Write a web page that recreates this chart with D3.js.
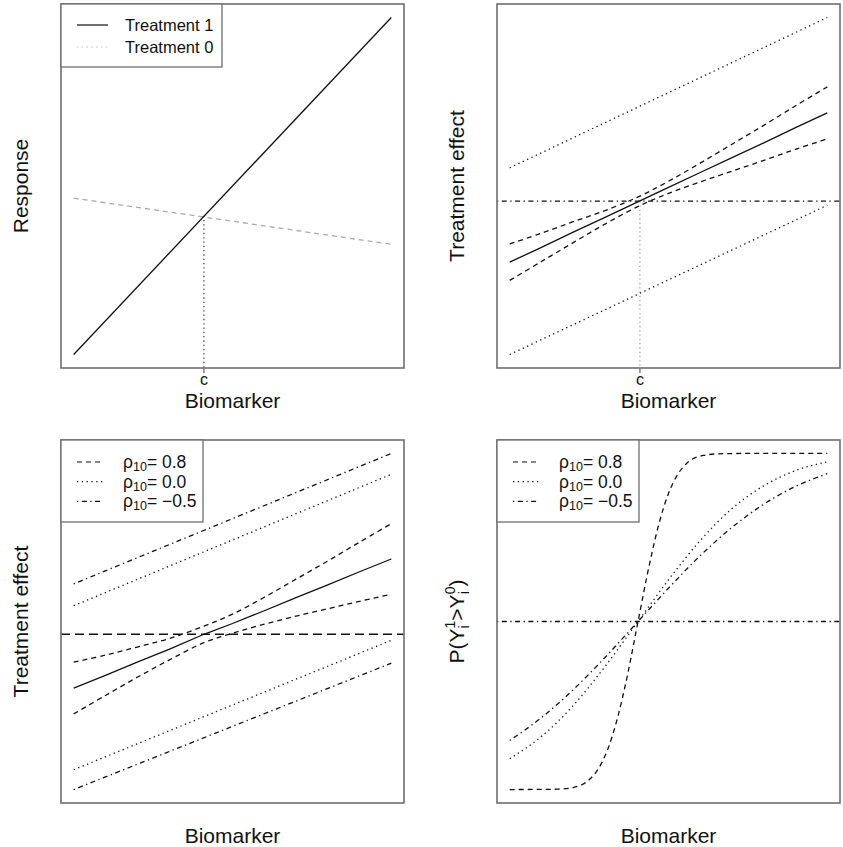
<!DOCTYPE html>
<html>
<head>
<meta charset="utf-8">
<script src="https://cdn.jsdelivr.net/npm/d3@7"></script>
<style>
  body { margin: 0; background: #fff; }
  text { font-family: "Liberation Sans", Arial, Helvetica, sans-serif; fill: #111; }
</style>
</head>
<body>
<div id="chart"></div>
<script>
/* DATA (biomarker and response on 0..1 units) */
const cutoff = 0.41;

// panel A: response
const respX = [0, 1];
const respTreat1 = [0, 1];
const respTreat0 = [0.464, 0.327];

// panel B: treatment effect with bands
const teX = [0, 0.1, 0.2, 0.3, 0.41, 0.5, 0.6, 0.7, 0.8, 0.9, 1];
const teMid = [0.274, 0.318, 0.363, 0.407, 0.456, 0.496, 0.540, 0.584, 0.628, 0.673, 0.717];
const teDashHi = [0.328, 0.360, 0.394, 0.427, 0.470, 0.514, 0.568, 0.624, 0.680, 0.738, 0.794];
const teDashLo = [0.220, 0.276, 0.332, 0.387, 0.442, 0.478, 0.512, 0.544, 0.576, 0.609, 0.640];
const teDotHi = [0.554, 1.0];
const teDotLo = [0, 0.443];
const teZero = 0.455;

// panel C: treatment effect for three correlations
const rhoX = [0, 0.1, 0.2, 0.3, 0.41, 0.5, 0.6, 0.7, 0.8, 0.9, 1];
const rhoMid = [0.302, 0.340, 0.379, 0.417, 0.462, 0.494, 0.532, 0.571, 0.609, 0.648, 0.686];
const rho08Hi = [0.379, 0.400, 0.424, 0.449, 0.486, 0.522, 0.572, 0.626, 0.680, 0.736, 0.791];
const rho08Lo = [0.225, 0.280, 0.334, 0.385, 0.437, 0.465, 0.492, 0.516, 0.538, 0.560, 0.581];
const rho00Hi = [0.547, 0.938];
const rho00Lo = [0.059, 0.444];
const rhoM05Hi = [0.612, 1.0];
const rhoM05Lo = [0, 0.376];
const rhoZero = 0.462;

// panel D: P(Y1 > Y0)
const pX08 = [0, 0.15, 0.20, 0.25, 0.28, 0.31, 0.34, 0.37, 0.404, 0.44, 0.47, 0.50, 0.53, 0.56, 0.61, 0.66, 0.75, 1.0];
const p08 = [0, 0.001, 0.006, 0.029, 0.063, 0.123, 0.215, 0.337, 0.5, 0.670, 0.791, 0.881, 0.939, 0.973, 0.994, 0.999, 1, 1];
const pX = [0, 0.1, 0.2, 0.3, 0.404, 0.5, 0.6, 0.7, 0.8, 0.9, 1];
const p00 = [0.092, 0.158, 0.25, 0.366, 0.5, 0.624, 0.741, 0.836, 0.904, 0.949, 0.975];
const pM05 = [0.146, 0.214, 0.297, 0.393, 0.5, 0.599, 0.696, 0.780, 0.849, 0.902, 0.940];
const pHalf = 0.5;

const rhoLabels = ["0.8", "0.0", "\u22120.5"];

/* CANVAS */
const width = 843, height = 847;
const svg = d3.select("#chart").append("svg")
    .attr("width", width)
    .attr("height", height);

const frameColor = "#6e6e6e";
const dash = "5,4", dot = "1.3,3.5", dotdash = "1.3,3.5,5,3.5", longdash = "9,5";

const boxes = [
    {x0: 61, x1: 404, y0: 4, y1: 368},
    {x0: 497, x1: 840, y0: 4, y1: 368},
    {x0: 61, x1: 404, y0: 440, y1: 803},
    {x0: 497, x1: 840, y0: 440, y1: 803}
];

// R style: 4% padding around data range
const scales = boxes.map(function(b) {
    return {
        x: d3.scaleLinear().domain([-0.04, 1.04]).range([b.x0, b.x1]),
        y: d3.scaleLinear().domain([-0.04, 1.04]).range([b.y1, b.y0])
    };
});

function drawLine(i, xs, ys, opts) {
    const s = scales[i];
    const line = d3.line()
        .x(function(d) { return s.x(d[0]); })
        .y(function(d) { return s.y(d[1]); })
        .curve(opts.curve || d3.curveLinear);
    svg.append("path")
        .datum(xs.map(function(x, k) { return [x, ys[k]]; }))
        .attr("d", line)
        .attr("fill", "none")
        .attr("stroke", opts.color || "#111")
        .attr("stroke-width", opts.w || 1.3)
        .attr("stroke-dasharray", opts.dash || null);
}

function hline(i, v, dashArr) {
    const b = boxes[i], s = scales[i];
    svg.append("line")
        .attr("x1", b.x0).attr("x2", b.x1)
        .attr("y1", s.y(v)).attr("y2", s.y(v))
        .attr("stroke", "#111").attr("stroke-width", 1.3)
        .attr("stroke-dasharray", dashArr);
}

function cutMark(i, v, color) {
    const b = boxes[i], s = scales[i];
    svg.append("line")
        .attr("x1", s.x(cutoff)).attr("x2", s.x(cutoff))
        .attr("y1", s.y(v)).attr("y2", b.y1)
        .attr("stroke", color).attr("stroke-width", 1.2)
        .attr("stroke-dasharray", "1.3,3");
    svg.append("line")
        .attr("x1", s.x(cutoff)).attr("x2", s.x(cutoff))
        .attr("y1", b.y1).attr("y2", b.y1 + 5)
        .attr("stroke", frameColor).attr("stroke-width", 1.3);
    svg.append("text")
        .attr("x", s.x(cutoff)).attr("y", b.y1 + 17)
        .attr("text-anchor", "middle")
        .style("font-size", "16px")
        .text("c");
}

/* PANEL A */
cutMark(0, 0.412, "#333");
drawLine(0, respX, respTreat0, {color: "#aaa", dash: dash});
drawLine(0, respX, respTreat1, {});

/* PANEL B */
hline(1, teZero, dotdash);
cutMark(1, teZero, "#999");
drawLine(1, respX, teDotHi, {dash: dot});
drawLine(1, respX, teDotLo, {dash: dot});
drawLine(1, teX, teDashHi, {dash: dash, curve: d3.curveCatmullRom});
drawLine(1, teX, teDashLo, {dash: dash, curve: d3.curveCatmullRom});
drawLine(1, teX, teMid, {});

/* PANEL C */
hline(2, rhoZero, longdash);
drawLine(2, respX, rhoM05Hi, {dash: dotdash});
drawLine(2, respX, rhoM05Lo, {dash: dotdash});
drawLine(2, respX, rho00Hi, {dash: dot});
drawLine(2, respX, rho00Lo, {dash: dot});
drawLine(2, rhoX, rho08Hi, {dash: dash, curve: d3.curveCatmullRom});
drawLine(2, rhoX, rho08Lo, {dash: dash, curve: d3.curveCatmullRom});
drawLine(2, rhoX, rhoMid, {});

/* PANEL D */
hline(3, pHalf, dotdash);
drawLine(3, pX08, p08, {dash: dash, curve: d3.curveMonotoneX});
drawLine(3, pX, p00, {dash: dot, curve: d3.curveMonotoneX});
drawLine(3, pX, pM05, {dash: dotdash, curve: d3.curveMonotoneX});

/* FRAMES */
boxes.forEach(function(b) {
    svg.append("rect")
        .attr("x", b.x0).attr("y", b.y0)
        .attr("width", b.x1 - b.x0).attr("height", b.y1 - b.y0)
        .attr("fill", "none")
        .attr("stroke", frameColor)
        .attr("stroke-width", 1.6);
});

/* AXIS LABELS */
const yLabels = ["Response", "Treatment effect", "Treatment effect", null];
boxes.forEach(function(b, i) {
    svg.append("text")
        .attr("x", (b.x0 + b.x1) / 2)
        .attr("y", b.y1 + 40)
        .attr("text-anchor", "middle")
        .style("font-size", "21px")
        .text("Biomarker");

    const cy = (b.y0 + b.y1) / 2;
    const lab = svg.append("text")
        .attr("transform", `translate(${b.x0 - 33},${cy}) rotate(-90)`)
        .attr("text-anchor", "middle")
        .style("font-size", "21px");
    if (yLabels[i]) {
        lab.text(yLabels[i]);
    } else {
        // superscript over subscript, stacked
        lab.append("tspan").text("P(Y");
        lab.append("tspan").attr("dy", -9).style("font-size", "14px").text("1");
        lab.append("tspan").attr("dx", -7.8).attr("dy", 14).style("font-size", "14px").text("i");
        lab.append("tspan").attr("dx", 4.7).attr("dy", -5).text(">Y");
        lab.append("tspan").attr("dy", -9).style("font-size", "14px").text("0");
        lab.append("tspan").attr("dx", -7.8).attr("dy", 14).style("font-size", "14px").text("i");
        lab.append("tspan").attr("dx", 4.7).attr("dy", -5).text(")");
    }
});

/* LEGENDS */
const leg1 = svg.append("g");
leg1.append("rect")
    .attr("x", 61).attr("y", 4).attr("width", 161).attr("height", 63)
    .attr("fill", "#fff").attr("stroke", frameColor).attr("stroke-width", 1.3);
[["Treatment 1", "#111", null], ["Treatment 0", "#bbb", dot]].forEach(function(e, i) {
    const y = 25 + i * 22;
    leg1.append("line")
        .attr("x1", 77).attr("x2", 108).attr("y1", y).attr("y2", y)
        .attr("stroke", e[1]).attr("stroke-width", 1.2)
        .attr("stroke-dasharray", e[2]);
    leg1.append("text")
        .attr("x", 125).attr("y", y + 6)
        .style("font-size", "16.5px")
        .text(e[0]);
});

[61, 497].forEach(function(lx) {
    const g = svg.append("g");
    g.append("rect")
        .attr("x", lx).attr("y", 440).attr("width", 142).attr("height", 82)
        .attr("fill", "#fff").attr("stroke", frameColor).attr("stroke-width", 1.3);
    [dash, dot, dotdash].forEach(function(d, i) {
        const y = 462 + i * 19.7;
        g.append("line")
            .attr("x1", lx + 16).attr("x2", lx + 42).attr("y1", y).attr("y2", y)
            .attr("stroke", "#111").attr("stroke-width", 1.2)
            .attr("stroke-dasharray", d);
        const t = g.append("text")
            .attr("x", lx + 62).attr("y", y + 6)
            .style("font-size", "17.5px");
        t.append("tspan").text("\u03c1");
        t.append("tspan").attr("dy", 3).style("font-size", "12.5px").text("10");
        t.append("tspan").attr("dy", -3).text("= " + rhoLabels[i]);
    });
});
</script>
</body>
</html>
